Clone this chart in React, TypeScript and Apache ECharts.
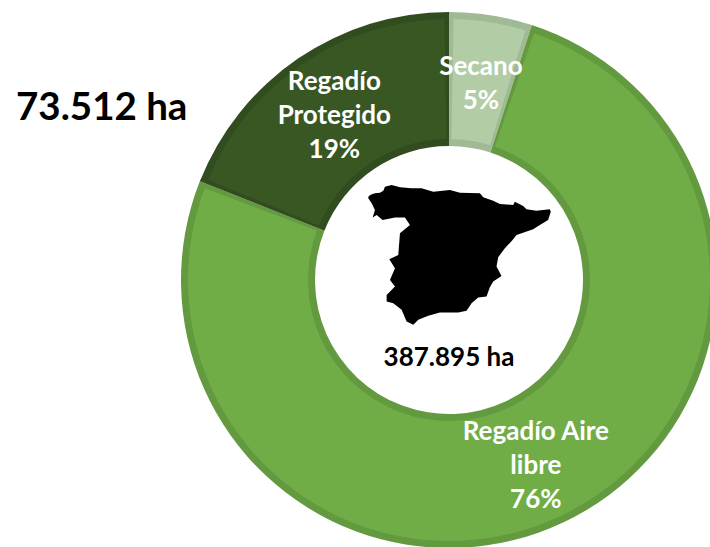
import React, { useEffect, useRef } from "react";
import * as echarts from "echarts";

const categories = ["Secano", "Regadío Aire\nlibre", "Regadío\nProtegido"];
const values = [5, 76, 19];
const fills = ["#B2CDA6", "#70AD47", "#385723"];
const borders = ["#A0BA95", "#639A3F", "#314D1F"];
const labelShifts = [3, -1, 3];
const sideTitle = "73.512 ha";
const centerTitle = "387.895 ha";
const FONT = "Lato, 'Open Sans', sans-serif";

const spainPath =
  "M55,80 L62,74 L75,70 L90,68 L100,62 L105,50 L125,45 L150,52 L185,55 L215,55 L250,65 L300,60 L330,68 L390,70 L400,82 L430,92 L450,102 L490,105 L495,95 L520,108 L530,118 L560,122 L600,118 L603,125 L595,150 L570,165 L550,178 L500,195 L487,212 L465,235 L445,262 L440,290 L455,318 L430,335 L420,352 L410,380 L385,383 L365,400 L350,423 L325,428 L270,428 L235,438 L205,450 L190,465 L170,455 L155,420 L130,400 L110,395 L110,375 L135,350 L120,330 L135,295 L118,268 L145,255 L150,190 L180,165 L165,143 L135,143 L98,150 L80,135 L68,143 L75,120 L65,100 L55,85 Z";

echarts.graphic.registerShape("spain", echarts.graphic.extendPath(spainPath, {}) as any);

export default function App() {
  const ref = useRef<HTMLDivElement>(null);
  useEffect(() => {
    document.body.style.margin = "0";
    const chart = echarts.init(ref.current!, undefined, { renderer: "svg" });
    const base = {
      type: "pie",
      center: [449, 280],
      startAngle: 90,
      clockwise: true,
      avoidLabelOverlap: false,
      labelLine: { show: false },
      silent: true,
    };
    chart.setOption({
      animation: false,
      backgroundColor: "#ffffff",
      series: [
        {
          ...base,
          radius: [134, 268],
          label: { show: false },
          data: categories.map((name, i) => ({
            name,
            value: values[i],
            itemStyle: { color: borders[i] },
          })),
        },
        {
          ...base,
          radius: [141, 261],
          padAngle: 2,
          label: {
            show: true,
            position: "inside",
            formatter: (p: any) => `${p.name}\n${p.value}%`,
            color: "#ffffff",
            fontFamily: FONT,
            fontWeight: "bold",
            fontSize: 26,
            lineHeight: 34,
            align: "center",
          },
          data: categories.map((name, i) => ({
            name,
            value: values[i],
            itemStyle: { color: fills[i] },
            label: { offset: [0, labelShifts[i]] },
          })),
        },
      ],
      graphic: [
        {
          type: "spain",
          x: 350,
          y: 170,
          scaleX: 1 / 3,
          scaleY: 1 / 3,
          style: { fill: "#000000" },
          z: 10,
        },
        {
          type: "text",
          x: 16,
          y: 105,
          style: {
            text: sideTitle,
            fill: "#000000",
            font: `bold 38.5px ${FONT}`,
            textVerticalAlign: "middle",
          },
          z: 10,
        },
        {
          type: "text",
          x: 449,
          y: 356,
          style: {
            text: centerTitle,
            fill: "#000000",
            font: `bold 26px ${FONT}`,
            textAlign: "center",
            textVerticalAlign: "middle",
          },
          z: 10,
        },
      ],
    });
    return () => chart.dispose();
  }, []);
  return <div ref={ref} style={{ width: 710, height: 547 }} />;
}
